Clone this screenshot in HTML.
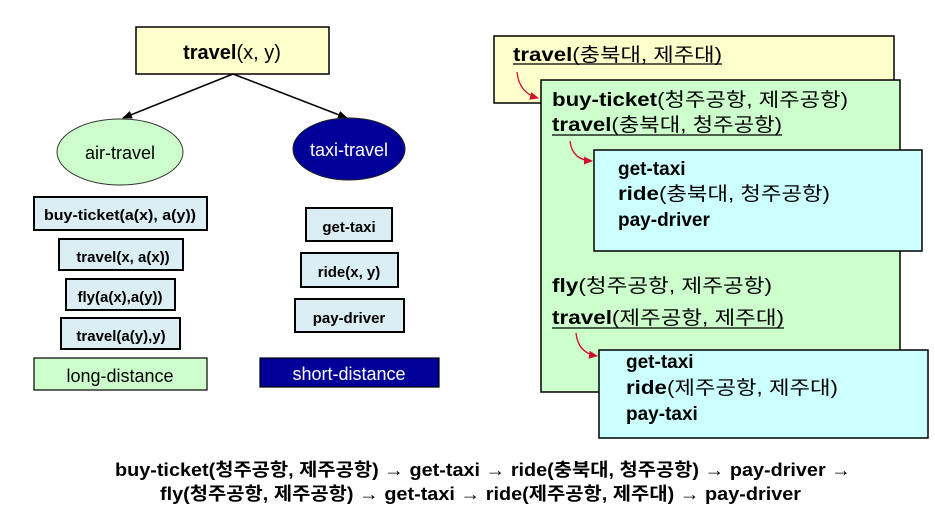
<!DOCTYPE html>
<html><head><meta charset="utf-8"><style>
html,body{margin:0;padding:0;background:#fff;width:935px;height:513px;overflow:hidden}
svg{display:block}
text{font-family:"Liberation Sans","Noto Sans CJK KR",sans-serif;fill:#000}
.b{font-weight:bold}
</style></head><body>
<svg width="935" height="513" viewBox="0 0 935 513" xmlns="http://www.w3.org/2000/svg">
<defs>
<marker id="ah" markerWidth="10" markerHeight="8" refX="9" refY="4" orient="auto" markerUnits="userSpaceOnUse"><path d="M0,0 L10,4 L0,8 z" fill="#000"/></marker>
<marker id="rh" markerWidth="9" markerHeight="8" refX="8" refY="4" orient="auto" markerUnits="userSpaceOnUse"><path d="M0,0 L9,4 L0,8 z" fill="#d0102a"/></marker>
</defs>
<rect x="136" y="27" width="193" height="47" fill="#ffffcc" stroke="#000" stroke-width="1.5"/>
<text x="232" y="59" font-size="20" text-anchor="middle"><tspan class="b">travel</tspan>(x, y)</text>
<line x1="233" y1="74" x2="123" y2="118" stroke="#000" stroke-width="1.5" marker-end="url(#ah)"/>
<line x1="233" y1="74" x2="347" y2="118" stroke="#000" stroke-width="1.5" marker-end="url(#ah)"/>
<ellipse cx="120" cy="152" rx="63" ry="33" fill="#ccffcc" stroke="#333" stroke-width="1"/>
<text x="120" y="159" font-size="18" text-anchor="middle">air-travel</text>
<ellipse cx="349" cy="149" rx="56" ry="31" fill="#000099" stroke="#222" stroke-width="1"/>
<text x="349" y="156" font-size="18" text-anchor="middle" style="fill:#fff">taxi-travel</text>
<g stroke="#000" stroke-width="2" fill="#daeef3">
<rect x="34" y="197" width="173" height="33"/>
<rect x="59" y="239" width="124" height="31"/>
<rect x="66" y="279" width="109" height="31"/>
<rect x="61" y="318" width="119" height="31"/>
<rect x="306" y="208" width="86" height="33"/>
<rect x="301" y="253" width="97" height="34"/>
<rect x="295" y="299" width="109" height="33"/>
</g>
<g font-size="15" text-anchor="middle">
<text x="120" y="220" class="b" textLength="152" lengthAdjust="spacingAndGlyphs">buy-ticket(a(x), a(y))</text>
<text x="123" y="262" class="b">travel(x, a(x))</text>
<text x="120" y="302" class="b">fly(a(x),a(y))</text>
<text x="121" y="341" class="b">travel(a(y),y)</text>
<text x="349" y="232" class="b">get-taxi</text>
<text x="349" y="277" class="b">ride(x, y)</text>
<text x="349" y="323" class="b">pay-driver</text>
</g>
<rect x="34" y="358" width="173" height="32" fill="#ccffcc" stroke="#000" stroke-width="1.2"/>
<text x="120" y="382" font-size="18" text-anchor="middle">long-distance</text>
<rect x="260" y="358" width="179" height="29" fill="#000099" stroke="#000" stroke-width="1.2"/>
<text x="349" y="380" font-size="18" text-anchor="middle" style="fill:#fff">short-distance</text>

<rect x="494" y="36" width="400" height="67" fill="#ffffcc" stroke="#000" stroke-width="1.5"/>
<text x="513" y="61" font-size="19" textLength="209" lengthAdjust="spacingAndGlyphs"><tspan class="b">travel</tspan>(충북대, 제주대)</text>
<line x1="513" y1="64" x2="722" y2="64" stroke="#000" stroke-width="1.2"/>
<path d="M517,72 Q519,93 538,98" fill="none" stroke="#d0102a" stroke-width="1.3" marker-end="url(#rh)"/>
<rect x="541" y="80" width="359" height="312" fill="#ccffcc" stroke="#000" stroke-width="1.5"/>
<text x="552" y="106" font-size="19" textLength="296" lengthAdjust="spacingAndGlyphs"><tspan class="b">buy-ticket</tspan>(청주공항, 제주공항)</text>
<text x="552" y="131" font-size="19" textLength="230" lengthAdjust="spacingAndGlyphs"><tspan class="b">travel</tspan>(충북대, 청주공항)</text>
<line x1="552" y1="135" x2="782" y2="135" stroke="#000" stroke-width="1.2"/>
<path d="M570,141 Q572,160 592,161" fill="none" stroke="#d0102a" stroke-width="1.3" marker-end="url(#rh)"/>
<rect x="594" y="150" width="328" height="101" fill="#ccffff" stroke="#000" stroke-width="1.5"/>
<text x="618" y="175" font-size="19" class="b">get-taxi</text>
<text x="618" y="200" font-size="19" textLength="212" lengthAdjust="spacingAndGlyphs"><tspan class="b">ride</tspan>(충북대, 청주공항)</text>
<text x="618" y="226" font-size="19" class="b">pay-driver</text>
<text x="552" y="292" font-size="19" textLength="220" lengthAdjust="spacingAndGlyphs"><tspan class="b">fly</tspan>(청주공항, 제주공항)</text>
<text x="552" y="324" font-size="19" textLength="232" lengthAdjust="spacingAndGlyphs"><tspan class="b">travel</tspan>(제주공항, 제주대)</text>
<line x1="552" y1="328" x2="784" y2="328" stroke="#000" stroke-width="1.2"/>
<path d="M576,333 Q578,353 597,356" fill="none" stroke="#d0102a" stroke-width="1.3" marker-end="url(#rh)"/>
<rect x="599" y="350" width="329" height="88" fill="#ccffff" stroke="#000" stroke-width="1.5"/>
<text x="626" y="368" font-size="19" class="b">get-taxi</text>
<text x="626" y="394" font-size="19" textLength="212" lengthAdjust="spacingAndGlyphs"><tspan class="b">ride</tspan>(제주공항, 제주대)</text>
<text x="626" y="420" font-size="19" class="b">pay-taxi</text>

<text x="115" y="476" font-size="18" class="b" textLength="736" lengthAdjust="spacingAndGlyphs">buy-ticket(청주공항, 제주공항) → get-taxi → ride(충북대, 청주공항) → pay-driver →</text>
<text x="160" y="500" font-size="18" class="b" textLength="641" lengthAdjust="spacingAndGlyphs">fly(청주공항, 제주공항) → get-taxi → ride(제주공항, 제주대) → pay-driver</text>
</svg>
</body></html>
